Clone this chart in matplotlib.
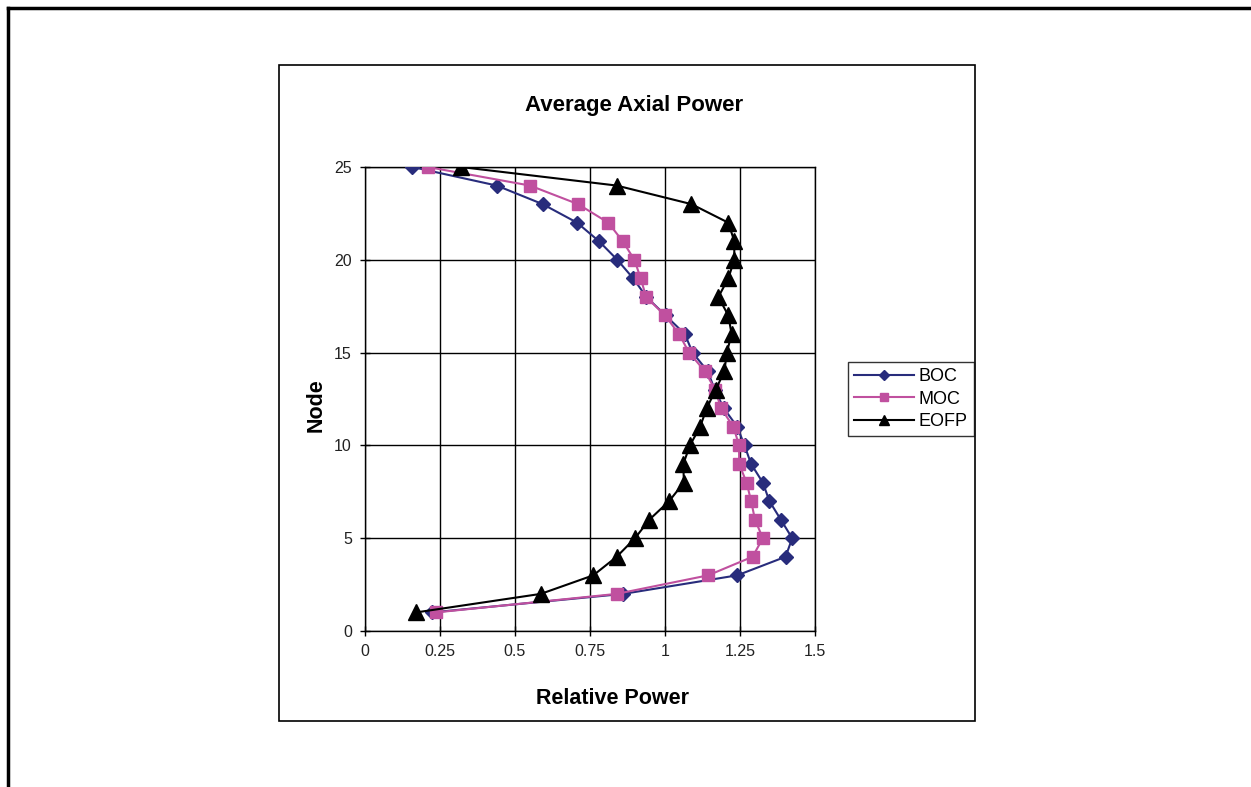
import matplotlib.pyplot as plt
from matplotlib.patches import Rectangle
from matplotlib.lines import Line2D

plt.rcParams['font.family'] = ['Liberation Sans', 'DejaVu Sans']

# node numbers 1..25
nodes = list(range(1, 26))

# relative power per node (node 1 first)
boc = [0.222, 0.861, 1.241, 1.402, 1.424, 1.386, 1.348, 1.326, 1.287, 1.265,
       1.241, 1.196, 1.166, 1.142, 1.092, 1.066, 1.002, 0.938, 0.894, 0.841,
       0.780, 0.707, 0.592, 0.439, 0.158]
moc = [0.236, 0.839, 1.144, 1.292, 1.326, 1.300, 1.287, 1.272, 1.247, 1.247,
       1.228, 1.187, 1.167, 1.133, 1.080, 1.047, 1.000, 0.937, 0.919, 0.898,
       0.859, 0.811, 0.710, 0.550, 0.209]
eofp = [0.170, 0.586, 0.761, 0.839, 0.900, 0.948, 1.014, 1.063, 1.061, 1.083,
        1.117, 1.139, 1.169, 1.198, 1.206, 1.222, 1.211, 1.178, 1.211, 1.231,
        1.231, 1.211, 1.088, 0.839, 0.319]

x_ticks = [0, 0.25, 0.5, 0.75, 1, 1.25, 1.5]
x_tick_labels = ['0', '0.25', '0.5', '0.75', '1', '1.25', '1.5']
y_ticks = [0, 5, 10, 15, 20, 25]

W, H = 1251, 787
fig = plt.figure(figsize=(W / 100, H / 100), dpi=100)

# outer page frame (top and left edges)
fig.add_artist(Line2D([8 / W, 1], [1 - 8 / H, 1 - 8 / H], color='black', lw=2.5,
                      transform=fig.transFigure))
fig.add_artist(Line2D([8 / W, 8 / W], [0, 1 - 8 / H], color='black', lw=2.5,
                      transform=fig.transFigure))

# chart area frame
fig.add_artist(Rectangle((279 / W, 1 - 721 / H), (975 - 279) / W, (721 - 65) / H,
                         fill=False, edgecolor='black', lw=1.2,
                         transform=fig.transFigure))

ax = fig.add_axes([365 / W, 1 - 631 / H, (815 - 365) / W, (631 - 167) / H])

ax.plot(boc, nodes, color='#282C7C', lw=1.5, marker='D', markersize=7.5,
        label='BOC', zorder=3)
ax.plot(moc, nodes, color='#C0509F', lw=1.5, marker='s', markersize=9,
        label='MOC', zorder=4)
ax.plot(eofp, nodes, color='black', lw=1.5, marker='^', markersize=11,
        label='EOFP', zorder=5)

ax.set_xlim(0, 1.5)
ax.set_ylim(0, 25)
ax.set_xticks(x_ticks)
ax.set_xticklabels(x_tick_labels)
ax.set_yticks(y_ticks)
ax.grid(True, color='black', lw=1)
ax.set_axisbelow(True)
for s in ax.spines.values():
    s.set_color('black')
    s.set_linewidth(1)
ax.tick_params(direction='inout', length=7, width=1, labelsize=11.5,
               labelcolor='#222222', pad=6)

fig.text(634 / W, 1 - 105 / H, 'Average Axial Power', ha='center', va='center',
         fontsize=16, fontweight='bold')
fig.text(613 / W, 1 - 698 / H, 'Relative Power', ha='center', va='center',
         fontsize=15.5, fontweight='bold')
fig.text(316 / W, 1 - 405 / H, 'Node', ha='center', va='center', rotation=90,
         fontsize=15.5, fontweight='bold')

handles, labels = ax.get_legend_handles_labels()
leg = fig.legend(handles, labels, loc='center',
                 bbox_to_anchor=(911 / W, 1 - 399 / H),
                 fontsize=13, frameon=True, fancybox=False, edgecolor='black',
                 markerscale=0.65, handlelength=3.3, handletextpad=0.3,
                 borderpad=0.35, labelspacing=0.3, borderaxespad=0)
leg.get_frame().set_linewidth(1)

fig.savefig('out.png', dpi=100)
